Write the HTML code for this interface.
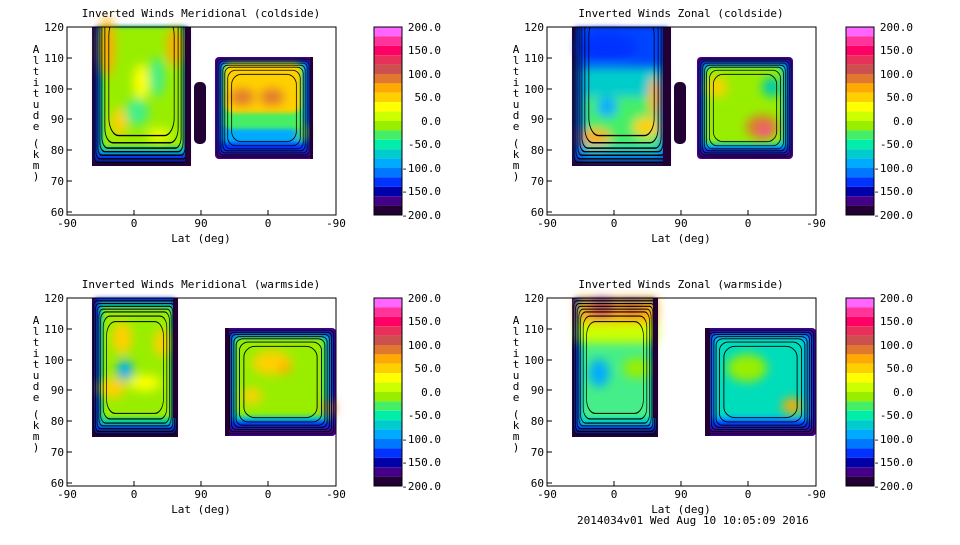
<!DOCTYPE html>
<html><head><style>
body{margin:0;background:#fff;width:960px;height:540px;overflow:hidden}
svg text{font-family:"DejaVu Sans Mono","Liberation Mono",monospace;font-size:11px;fill:#000}
.c{fill:none;stroke:#000;stroke-width:0.8}
</style></head><body>
<svg width="960" height="540" viewBox="0 0 960 540" xmlns="http://www.w3.org/2000/svg">
<defs>
<clipPath id="pc"><rect x="0" y="0" width="269" height="188"/></clipPath>
<filter id="b" x="-20%" y="-20%" width="140%" height="140%"><feGaussianBlur stdDeviation="5"/></filter>
<filter id="b2"><feGaussianBlur stdDeviation="2"/></filter>
<g id="cbar">
 <rect x="0" y="0" width="28" height="9.4" fill="#ff66ff"/>
 <rect x="0" y="9.4" width="28" height="9.4" fill="#ff3399"/>
 <rect x="0" y="18.8" width="28" height="9.4" fill="#ff0066"/>
 <rect x="0" y="28.2" width="28" height="9.4" fill="#e8305a"/>
 <rect x="0" y="37.6" width="28" height="9.4" fill="#cc5050"/>
 <rect x="0" y="47" width="28" height="9.4" fill="#e07830"/>
 <rect x="0" y="56.4" width="28" height="9.4" fill="#ffaa00"/>
 <rect x="0" y="65.8" width="28" height="9.4" fill="#ffd000"/>
 <rect x="0" y="75.2" width="28" height="9.4" fill="#ffff00"/>
 <rect x="0" y="84.6" width="28" height="9.4" fill="#ccff00"/>
 <rect x="0" y="94" width="28" height="9.4" fill="#99ee00"/>
 <rect x="0" y="103.4" width="28" height="9.4" fill="#44ee66"/>
 <rect x="0" y="112.8" width="28" height="9.4" fill="#00eeaa"/>
 <rect x="0" y="122.2" width="28" height="9.4" fill="#00cccc"/>
 <rect x="0" y="131.6" width="28" height="9.4" fill="#00aaff"/>
 <rect x="0" y="141" width="28" height="9.4" fill="#0077ff"/>
 <rect x="0" y="150.4" width="28" height="9.4" fill="#0033ff"/>
 <rect x="0" y="159.8" width="28" height="9.4" fill="#0000aa"/>
 <rect x="0" y="169.2" width="28" height="9.4" fill="#440088"/>
 <rect x="0" y="178.6" width="28" height="9.4" fill="#220033"/>
 <rect x="0" y="0" width="28" height="188" fill="none" stroke="#000"/>
 <text x="67" y="4" text-anchor="end">200.0</text>
 <text x="67" y="27" text-anchor="end">150.0</text>
 <text x="67" y="51" text-anchor="end">100.0</text>
 <text x="67" y="74" text-anchor="end">50.0</text>
 <text x="67" y="98" text-anchor="end">0.0</text>
 <text x="67" y="121" text-anchor="end">-50.0</text>
 <text x="67" y="145" text-anchor="end">-100.0</text>
 <text x="67" y="168" text-anchor="end">-150.0</text>
 <text x="67" y="192" text-anchor="end">-200.0</text>
</g>
<g id="axes">
 <rect x="0" y="0" width="269" height="188" fill="none" stroke="#000"/>
 <g stroke="#000">
  <line x1="67" y1="188" x2="67" y2="183"/><line x1="134" y1="188" x2="134" y2="183"/><line x1="201" y1="188" x2="201" y2="183"/>
  <line x1="0" y1="31" x2="5" y2="31"/><line x1="0" y1="62" x2="5" y2="62"/><line x1="0" y1="92" x2="5" y2="92"/><line x1="0" y1="123" x2="5" y2="123"/><line x1="0" y1="154" x2="5" y2="154"/><line x1="0" y1="185" x2="5" y2="185"/>
 </g>
 <text x="0" y="200" text-anchor="middle">-90</text><text x="67" y="200" text-anchor="middle">0</text><text x="134" y="200" text-anchor="middle">90</text><text x="201" y="200" text-anchor="middle">0</text><text x="269" y="200" text-anchor="middle">-90</text>
 <text x="134" y="215" text-anchor="middle">Lat (deg)</text>
 <text x="-3" y="4" text-anchor="end">120</text><text x="-3" y="35" text-anchor="end">110</text><text x="-3" y="66" text-anchor="end">100</text><text x="-3" y="96" text-anchor="end">90</text><text x="-3" y="127" text-anchor="end">80</text><text x="-3" y="158" text-anchor="end">70</text><text x="-3" y="189" text-anchor="end">60</text>
 <g text-anchor="middle"><text x="-31" y="26">A</text><text x="-31" y="37">l</text><text x="-31" y="48">t</text><text x="-31" y="59">i</text><text x="-31" y="70">t</text><text x="-31" y="81">u</text><text x="-31" y="92">d</text><text x="-31" y="103">e</text><text x="-31" y="120">(</text><text x="-31" y="131">k</text><text x="-31" y="142">m</text><text x="-31" y="153">)</text></g>
</g>
<g id="rings">
 <rect class="c" x="2" y="2" width="96" height="96" rx="4"/>
 <rect class="c" x="4" y="4" width="92" height="92" rx="4"/>
 <rect class="c" x="6" y="6" width="88" height="88" rx="4"/>
 <rect class="c" x="8" y="8" width="84" height="84" rx="5"/>
 <rect class="c" x="10" y="10" width="80" height="80" rx="6"/>
 <rect class="c" x="13" y="13" width="74" height="74" rx="8"/>
 <rect class="c" x="17" y="17" width="66" height="66" rx="10"/>
</g>
</defs>

<!-- Panel 1 -->
<g transform="translate(67,27)">
  <rect x="25" y="0" width="99" height="139" fill="#220033"/>
  <rect x="28" y="0" width="93" height="134" fill="#0033ff" filter="url(#b2)"/>
  <rect x="32" y="0" width="86" height="127" fill="#00ccbb" filter="url(#b2)"/>
  <rect x="36" y="0" width="80" height="120" fill="#99ee00" filter="url(#b2)"/>
  <g filter="url(#b)">
   <ellipse cx="40" cy="20" rx="8" ry="30" fill="#ffaa00"/>
   <ellipse cx="52" cy="95" rx="8" ry="14" fill="#ffd000"/>
   <ellipse cx="74" cy="55" rx="8" ry="18" fill="#ffff00"/>
   <ellipse cx="92" cy="108" rx="12" ry="6" fill="#ffff00"/>
   <ellipse cx="70" cy="85" rx="12" ry="14" fill="#44ee88"/>
   <ellipse cx="90" cy="50" rx="8" ry="20" fill="#44ee88"/>
   <ellipse cx="108" cy="20" rx="8" ry="20" fill="#ffaa00"/>
  </g>
  <g clip-path="url(#pc)"><use href="#rings" transform="translate(25,-40) scale(0.99,1.79)"/></g>
  <rect x="118" y="0" width="6" height="139" fill="#220033"/>
  <rect x="127" y="55" width="12" height="62" rx="5" fill="#220033"/>
  <rect x="148" y="30" width="98" height="102" rx="4" fill="#440088"/>
  <rect x="151" y="34" width="92" height="92" rx="4" fill="#0033ff" filter="url(#b2)"/>
  <rect x="154" y="36" width="86" height="80" rx="4" fill="#00aaff" filter="url(#b2)"/>
  <rect x="156" y="36" width="80" height="66" rx="6" fill="#44ee66" filter="url(#b2)"/>
  <rect x="158" y="36" width="76" height="50" rx="8" fill="#ffd000" filter="url(#b2)"/>
  <g filter="url(#b)"><ellipse cx="175" cy="70" rx="12" ry="8" fill="#e07830"/><ellipse cx="205" cy="70" rx="12" ry="8" fill="#e07830"/><ellipse cx="236" cy="105" rx="5" ry="8" fill="#99ee00"/></g>
  <use href="#rings" transform="translate(148,30) scale(0.98,1.02)"/>
  <rect x="243" y="30" width="3" height="102" fill="#220033"/>
 <use href="#axes"/>
 <text x="134" y="-10" text-anchor="middle">Inverted Winds Meridional (coldside)</text>
</g>
<use href="#cbar" x="374" y="27"/>

<!-- Panel 2 -->
<g transform="translate(547,27)">
 <rect x="25" y="0" width="99" height="139" fill="#220033"/>
 <rect x="28" y="0" width="93" height="134" fill="#0044ff" filter="url(#b2)"/>
 <g filter="url(#b)">
  <rect x="34" y="40" width="82" height="90" fill="#00cccc"/>
  <rect x="38" y="70" width="75" height="50" fill="#44ee66"/>
  <ellipse cx="48" cy="110" rx="16" ry="8" fill="#ffaa00"/>
  <ellipse cx="100" cy="100" rx="14" ry="10" fill="#ffd000"/>
  <ellipse cx="108" cy="70" rx="6" ry="20" fill="#ffaa00"/>
  <ellipse cx="60" cy="80" rx="10" ry="10" fill="#00aaff"/>
  <ellipse cx="60" cy="20" rx="30" ry="14" fill="#0033ff"/>
 </g>
 <g clip-path="url(#pc)"><use href="#rings" transform="translate(25,-40) scale(0.99,1.79)"/></g>
 <rect x="116" y="0" width="8" height="139" fill="#220033"/>
 <rect x="127" y="55" width="12" height="62" rx="5" fill="#220033"/>
 <rect x="150" y="30" width="96" height="102" rx="4" fill="#440088"/>
 <rect x="153" y="34" width="90" height="92" rx="4" fill="#0033ff" filter="url(#b2)"/>
 <rect x="156" y="37" width="84" height="84" rx="4" fill="#00cccc" filter="url(#b2)"/>
 <rect x="159" y="40" width="76" height="76" rx="6" fill="#99ee00" filter="url(#b2)"/>
 <g filter="url(#b)"><ellipse cx="170" cy="60" rx="10" ry="10" fill="#ffd000"/><ellipse cx="215" cy="100" rx="16" ry="12" fill="#e07830"/><ellipse cx="218" cy="104" rx="6" ry="5" fill="#ff3399"/><ellipse cx="225" cy="60" rx="10" ry="10" fill="#00ccaa"/></g>
 <use href="#rings" transform="translate(150,30) scale(0.96,1.02)"/>
 <use href="#axes"/>
 <text x="134" y="-10" text-anchor="middle">Inverted Winds Zonal (coldside)</text>
</g>
<use href="#cbar" x="846" y="27"/>

<!-- Panel 3 -->
<g transform="translate(67,298)">
 <rect x="25" y="0" width="86" height="139" fill="#220033"/>
 <rect x="28" y="0" width="80" height="134" fill="#0033ff" filter="url(#b2)"/>
 <rect x="32" y="4" width="74" height="124" fill="#00ccaa" filter="url(#b2)"/>
 <rect x="36" y="10" width="68" height="110" fill="#99ee00" filter="url(#b2)"/>
 <g filter="url(#b)">
  <ellipse cx="55" cy="40" rx="10" ry="16" fill="#ffd000"/>
  <ellipse cx="45" cy="90" rx="14" ry="10" fill="#ffd000"/>
  <ellipse cx="78" cy="85" rx="16" ry="8" fill="#ffff00"/>
  <ellipse cx="58" cy="72" rx="8" ry="10" fill="#00aaff"/>
  <ellipse cx="95" cy="45" rx="8" ry="14" fill="#ffd000"/>
 </g>
 <use href="#rings" transform="translate(25,0) scale(0.86,1.39)"/>
 <rect x="106" y="0" width="5" height="120" fill="#220033"/>
 <rect x="158" y="30" width="111" height="108" rx="4" fill="#440088"/>
 <rect x="162" y="34" width="104" height="96" rx="4" fill="#0033ff" filter="url(#b2)"/>
 <rect x="165" y="37" width="98" height="86" rx="4" fill="#00cccc" filter="url(#b2)"/>
 <rect x="169" y="40" width="88" height="78" rx="6" fill="#99ee00" filter="url(#b2)"/>
 <g filter="url(#b)"><ellipse cx="205" cy="65" rx="20" ry="12" fill="#ffd000"/><ellipse cx="218" cy="70" rx="6" ry="6" fill="#ffaa00"/><ellipse cx="185" cy="98" rx="10" ry="8" fill="#ffd000"/><ellipse cx="262" cy="110" rx="6" ry="8" fill="#e07830"/></g>
 <use href="#rings" transform="translate(158,30) scale(1.11,1.08)"/>
 <rect x="158" y="30" width="4" height="108" fill="#220033"/>
 <use href="#axes"/>
 <text x="134" y="-10" text-anchor="middle">Inverted Winds Meridional (warmside)</text>
</g>
<use href="#cbar" x="374" y="298"/>

<!-- Panel 4 -->
<g transform="translate(547,298)">
 <rect x="25" y="0" width="86" height="139" fill="#220033"/>
 <rect x="28" y="0" width="80" height="134" fill="#0033ff" filter="url(#b2)"/>
 <rect x="32" y="4" width="74" height="124" fill="#00cccc" filter="url(#b2)"/>
 <rect x="36" y="10" width="68" height="110" fill="#44ee88" filter="url(#b2)"/>
 <g filter="url(#b)">
  <rect x="30" y="0" width="80" height="30" fill="#ffaa00"/>
  <ellipse cx="55" cy="10" rx="14" ry="10" fill="#cc5050"/>
  <ellipse cx="85" cy="10" rx="12" ry="8" fill="#e07830"/>
  <rect x="30" y="25" width="80" height="20" fill="#ccff00"/>
  <ellipse cx="52" cy="75" rx="10" ry="14" fill="#00aaff"/>
  <ellipse cx="90" cy="70" rx="14" ry="10" fill="#99ee00"/>
 </g>
 <use href="#rings" transform="translate(25,0) scale(0.86,1.39)"/>
 <rect x="106" y="0" width="5" height="120" fill="#220033"/>
 <rect x="158" y="30" width="111" height="108" rx="4" fill="#440088"/>
 <rect x="162" y="34" width="104" height="96" rx="4" fill="#0033ff" filter="url(#b2)"/>
 <rect x="165" y="37" width="98" height="86" rx="4" fill="#00aaff" filter="url(#b2)"/>
 <rect x="169" y="40" width="88" height="78" rx="6" fill="#00ddbb" filter="url(#b2)"/>
 <g filter="url(#b)"><ellipse cx="200" cy="70" rx="20" ry="14" fill="#99ee00"/><ellipse cx="245" cy="108" rx="10" ry="8" fill="#ffaa00"/></g>
 <use href="#rings" transform="translate(158,30) scale(1.11,1.08)"/>
 <rect x="158" y="30" width="5" height="108" fill="#220033"/>
 <use href="#axes"/>
 <text x="134" y="-10" text-anchor="middle">Inverted Winds Zonal (warmside)</text>
</g>
<use href="#cbar" x="846" y="298"/>

<text x="577" y="524">2014034v01 Wed Aug 10 10:05:09 2016</text>
</svg>
</body></html>
